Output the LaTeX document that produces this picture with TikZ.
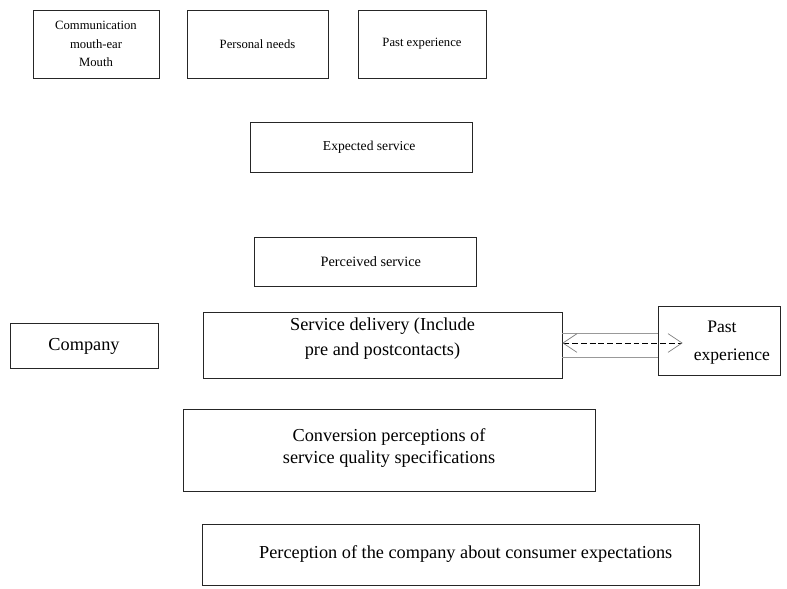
\documentclass[tikz,border=0pt]{standalone}
\usepackage{fontspec}
\setmainfont{Liberation Serif}
\usetikzlibrary{arrows.meta, positioning}

\begin{document}
\begin{tikzpicture}[x=0.03cm, y=-0.03cm,
        box/.style={draw=black!85, rectangle, line width=0.6pt, align=center, inner sep=0pt, font=\fontsize{10.8}{15.8}\selectfont},
        big/.style={font=\fontsize{15.6}{20}\selectfont},
        arrow/.style={dashed, dash pattern=on 5pt off 2.5pt, line width=0.5pt, {Straight Barb[length=12pt, width=16pt, line width=0.6pt, color=gray]}-{Straight Barb[length=12pt, width=16pt, line width=0.6pt, color=gray]}},
        rail/.style={draw=gray!80, line width=0.6pt}
    ]
        \useasboundingbox (0,0) rectangle (787,588);

        % Boxes
        \node[box, minimum width=126*0.03cm, minimum height=68*0.03cm] (mouth) at (96,44) {Communication\\mouth-ear\\Mouth};
        \node[box, minimum width=141*0.03cm, minimum height=68*0.03cm] (needs) at (257.5,44) {Personal needs};
        \node[box, minimum width=128*0.03cm, minimum height=68*0.03cm] (pastexp) at (422,44) {Past experience};
        \node[box, font=\fontsize{11.6}{14}\selectfont, minimum width=222*0.03cm, minimum height=50*0.03cm] (expected) at (361,147) {\hspace{14pt}Expected service};
        \node[box, font=\fontsize{12.2}{14}\selectfont, minimum width=222*0.03cm, minimum height=49*0.03cm] (perceived) at (365,262) {\hspace{10pt}Perceived service};
        \node[box, big, minimum width=148*0.03cm, minimum height=45*0.03cm] (company) at (84,346) {Company};
        \node[box, big, minimum width=359*0.03cm, minimum height=66*0.03cm] (delivery) at (382.5,345) {\raisebox{2pt}[0pt][0pt]{\begin{tabular}{@{}c@{}}Service delivery (Include\\[1pt]pre and postcontacts)\end{tabular}}};
        \node[box, minimum width=122*0.03cm, minimum height=69*0.03cm] (pastexp2) at (719,340.5) {\fontsize{15}{19}\selectfont\hspace{22pt}\raisebox{-5pt}[0pt][0pt]{\begin{tabular}{@{}c@{}}Past\kern17pt\\[5pt]experience\end{tabular}}};
        \node[box, big, minimum width=412*0.03cm, minimum height=82*0.03cm] (conversion) at (389,450) {\raisebox{-1.9pt}[0pt][0pt]{\begin{tabular}{@{}c@{}}Conversion perceptions of\\[-1pt]service quality specifications\end{tabular}}};
        \node[box, big, minimum width=497*0.03cm, minimum height=61*0.03cm] (perception) at (450.5,554.5) {\hspace{26pt}Perception of the company about consumer expectations};

        % Arrows
        \draw[rail] (delivery.east |- 0,333) -- (pastexp2.west |- 0,333);
        \draw[rail] (delivery.east |- 0,357) -- (pastexp2.west |- 0,357);
        \draw[arrow, shorten >=-25*0.03cm] (delivery.east |- 0,343) -- (pastexp2.west |- 0,343);

    \end{tikzpicture}
\end{document}
